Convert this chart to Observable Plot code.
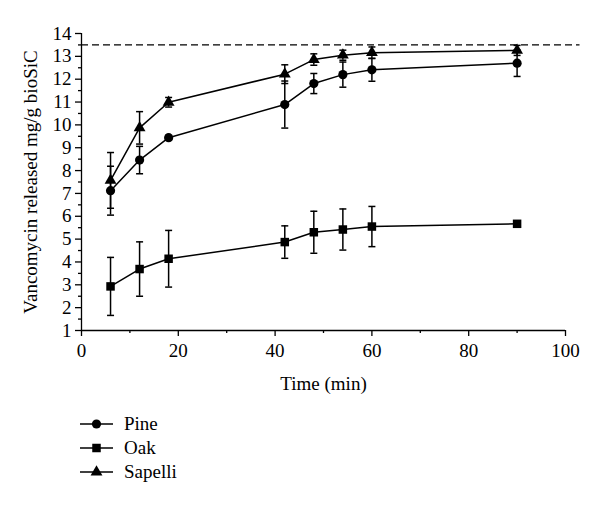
<!DOCTYPE html>
<html>
<head>
<meta charset="utf-8">
<script src="https://cdn.jsdelivr.net/npm/d3@7"></script>
<script src="https://cdn.jsdelivr.net/npm/@observablehq/plot@0.6"></script>
<style>
  html, body { margin: 0; padding: 0; background: white; }
  body { width: 600px; height: 506px; overflow: hidden; font-family: "Liberation Serif", serif; }
  #legend { padding-top: 2px; margin-left: 80px; }
  .row { display: flex; align-items: center; height: 24px; font-size: 19px; color: black; }
  .row span { margin-left: 10px; }
</style>
</head>
<body>
<div id="chart"></div>
<div id="legend"></div>
<script>
// ---- data ----
const times = [6, 12, 18, 42, 48, 54, 60, 90];
const seriesNames = ["Pine", "Oak", "Sapelli"];
const pine = [7.12, 8.46, 9.44, 10.89, 11.81, 12.2, 12.41, 12.7];
const pineErr = [1.07, 0.6, 0.1, 1.03, 0.44, 0.55, 0.5, 0.58];
const oak = [2.93, 3.69, 4.14, 4.87, 5.3, 5.42, 5.55, 5.67];
const oakErr = [1.27, 1.19, 1.24, 0.71, 0.92, 0.9, 0.88, 0.08];
const sapelli = [7.57, 9.87, 10.99, 12.22, 12.86, 13.05, 13.16, 13.26];
const sapelliErr = [1.22, 0.71, 0.21, 0.41, 0.25, 0.22, 0.25, 0.22];
const limitValue = 13.5;
const limitExtent = [0, 103];
const xTicks = [0, 20, 40, 60, 80, 100];
const xMinorTicks = [10, 30, 50, 70, 90];
const yTicks = [1, 2, 3, 4, 5, 6, 7, 8, 9, 10, 11, 12, 13, 14];
const yMinorTicks = [1.5, 2.5, 3.5, 4.5, 5.5, 6.5, 7.5, 8.5, 9.5, 10.5, 11.5, 12.5, 13.5];

const values = {Pine: pine, Oak: oak, Sapelli: sapelli};
const errors = {Pine: pineErr, Oak: oakErr, Sapelli: sapelliErr};
const symbols = {Pine: "circle", Oak: "square", Sapelli: "triangle"};
const radii = {Pine: 4.6, Oak: 4.8, Sapelli: 4.4};

const rows = seriesNames.flatMap(s => times.map((t, i) => ({s, t, v: values[s][i], e: errors[s][i]})));

const capSymbol = {
  draw(context, size) {
    const w = Math.sqrt(size / Math.PI);
    context.moveTo(-w, 0);
    context.lineTo(w, 0);
  }
};

const font = "Liberation Serif";

const chart = Plot.plot({
  width: 600,
  height: 410,
  marginLeft: 81,
  marginRight: 35,
  marginTop: 33,
  marginBottom: 80,
  style: {fontFamily: font, fontSize: "19px", color: "black", background: "white", overflow: "visible"},
  x: {domain: [0, 100]},
  y: {domain: [1, 14]},
  marks: [
    Plot.axisX(xTicks, {tickSize: 6, tickPadding: 7, stroke: "black", strokeWidth: 1.3, label: "Time (min)", labelAnchor: "center", labelArrow: "none", labelOffset: 59}),
    Plot.axisX(xMinorTicks, {tickSize: 3, stroke: "black", strokeWidth: 1.3, text: null, label: null}),
    Plot.axisY(yTicks, {tickSize: 6, tickPadding: 4, stroke: "black", strokeWidth: 1.3, label: "Vancomycin released mg/g bioSiC", labelAnchor: "center", labelArrow: "none", labelOffset: 58}),
    Plot.axisY(yMinorTicks, {tickSize: 3, stroke: "black", strokeWidth: 1.3, text: null, label: null}),
    Plot.ruleX([0], {stroke: "black", strokeWidth: 1.3}),
    Plot.ruleY([1], {stroke: "black", strokeWidth: 1.3}),
    Plot.ruleY([limitValue], {x1: limitExtent[0], x2: limitExtent[1], stroke: "black", strokeWidth: 1.3, strokeDasharray: "7,4"}),
    Plot.line(rows, {x: "t", y: "v", z: "s", stroke: "black", strokeWidth: 1.5}),
    Plot.ruleX(rows, {x: "t", y1: d => d.v - d.e, y2: d => d.v + d.e, stroke: "black", strokeWidth: 1.5}),
    Plot.dot(rows, {x: "t", y: d => d.v - d.e, symbol: capSymbol, r: 3.5, fill: "none", stroke: "black", strokeWidth: 1.5}),
    Plot.dot(rows, {x: "t", y: d => d.v + d.e, symbol: capSymbol, r: 3.5, fill: "none", stroke: "black", strokeWidth: 1.5}),
    ...seriesNames.map(s => Plot.dot(rows.filter(d => d.s === s), {x: "t", y: "v", symbol: symbols[s], r: radii[s], fill: "black", stroke: "none"}))
  ]
});
document.getElementById("chart").appendChild(chart);

// legend
const legend = d3.select("#legend");
const symMap = {circle: d3.symbolCircle, square: d3.symbolSquare, triangle: d3.symbolTriangle};
seriesNames.forEach(s => {
  const row = legend.append("div").attr("class", "row");
  const svg = row.append("svg").attr("width", 34).attr("height", 24);
  svg.append("line").attr("x1", 0).attr("x2", 33).attr("y1", 12).attr("y2", 12).attr("stroke", "black").attr("stroke-width", 1.5);
  svg.append("path").attr("transform", "translate(16.5,12)")
    .attr("d", d3.symbol(symMap[symbols[s]], radii[s] * radii[s] * Math.PI)()).attr("fill", "black");
  row.append("span").text(s);
});
</script>
</body>
</html>
